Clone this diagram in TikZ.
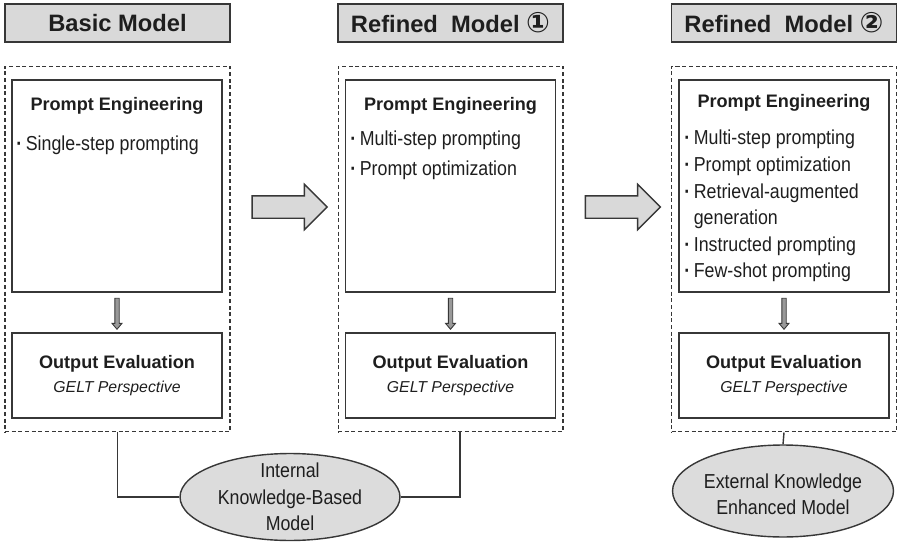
\documentclass[tikz,border=0pt]{standalone}
\usepackage{fontspec}
\setmainfont{Liberation Sans}
\newfontfamily\condfont[FakeStretch=0.88]{Liberation Sans}
\newfontfamily\symfont{DejaVu Sans}
\usetikzlibrary{positioning,shapes.geometric,shapes.arrows}
\definecolor{boxgray}{RGB}{217,217,217}
\definecolor{ellgray}{RGB}{220,220,220}
\definecolor{linegray}{RGB}{55,55,55}
\definecolor{txtgray}{RGB}{30,30,30}
\newcommand\bul{\makebox[0.19cm][l]{\bfseries\textperiodcentered}}

\begin{document}
\begin{tikzpicture}[
  x=0.02cm, y=-0.02cm,
  every node/.style={text=txtgray},
  titlebox/.style = {draw=linegray, line width=1pt, fill=boxgray, minimum width=4.5cm, minimum height=0.76cm, inner sep=0pt, font=\fontsize{13.5}{16}\selectfont\bfseries},
  frame/.style = {draw=linegray, dash pattern=on 2.3pt off 1.5pt, line width=0.6pt, minimum width=4.5cm, minimum height=7.32cm},
  pebox/.style = {draw=linegray, line width=0.8pt, minimum width=4.2cm, minimum height=4.24cm},
  oebox/.style = {draw=linegray, line width=0.8pt, minimum width=4.2cm, minimum height=1.7cm, align=center, font=\fontsize{10.3}{13.6}\selectfont},
  petitle/.style = {font=\fontsize{10.3}{12}\selectfont\bfseries, inner sep=0pt},
  items/.style = {anchor=north west, align=left, inner sep=0pt, font=\condfont\fontsize{11.5}{15.1}\selectfont},
  bigarr/.style = {single arrow, draw=linegray, line width=0.8pt, fill=boxgray, minimum height=1.5cm, inner xsep=0pt, inner ysep=0.21cm, single arrow head extend=0.23cm},
  downarr/.style = {single arrow, shape border rotate=270, draw=linegray, line width=0.5pt, fill=gray!80, minimum height=0.62cm, inner sep=0.035cm, single arrow head extend=0.055cm, single arrow tip angle=80},
  ellbox/.style = {ellipse, draw=linegray, line width=0.8pt, fill=ellgray, inner sep=0pt},
  elltext/.style = {align=center, inner sep=0pt, font=\condfont\fontsize{11.5}{15}\selectfont}
  ]
  \useasboundingbox (0,0) rectangle (898,543);

  % titles
  \node[titlebox] (t1) at (117.5,23) {Basic Model};
  \node[titlebox] (t2) at (450.5,23) {Refined\ \ Model {\symfont\fontsize{16}{16}\selectfont ①}};
  \node[titlebox] (t3) at (784,23) {Refined\ \ Model {\symfont\fontsize{16}{16}\selectfont ②}};

  % dashed frames
  \node[frame] (f1) at (117.5,249) {};
  \node[frame] (f2) at (450.5,249) {};
  \node[frame] (f3) at (784,249) {};

  % prompt engineering boxes
  \node[pebox] (pe1) at (117,186) {};
  \node[pebox] (pe2) at (450.5,186) {};
  \node[pebox] (pe3) at (784,186) {};

  \node[petitle] (pt1) at (117,106) {Prompt Engineering};
  \node[petitle] (pt2) at (450.5,106) {Prompt Engineering};
  \node[petitle] (pt3) at (784,103) {Prompt Engineering};

  \node[items] (li1) at (16,136) {\bul Single-step prompting};
  \node[items, font=\condfont\fontsize{11.5}{17}\selectfont] (li2) at (350,131) {\bul Multi-step prompting\\ \bul Prompt optimization};
  \node[items] (li3) at (684,130) {\bul Multi-step prompting\\ \bul Prompt optimization\\ \bul Retrieval-augmented\\ \hspace*{0.19cm}generation\\ \bul Instructed prompting\\ \bul Few-shot prompting};

  % output evaluation boxes
  \node[oebox] (oe1) at (117,375.5) {\textbf{Output Evaluation}\\{\fontsize{9}{11}\selectfont\itshape GELT Perspective}};
  \node[oebox] (oe2) at (450.5,375.5) {\textbf{Output Evaluation}\\{\fontsize{9}{11}\selectfont\itshape GELT Perspective}};
  \node[oebox] (oe3) at (784,375.5) {\textbf{Output Evaluation}\\{\fontsize{9}{11}\selectfont\itshape GELT Perspective}};

  \path (pe1.south) -- (oe1.north) node[downarr, midway] (d1) {};
  \path (pe2.south) -- (oe2.north) node[downarr, midway] (d2) {};
  \path (pe3.south) -- (oe3.north) node[downarr, midway] (d3) {};

  % arrows between models
  \path (f1.east) -- (f2.west) node[bigarr, midway, yshift=0.84cm] (a1) {};
  \path (f2.east) -- (f3.west) node[bigarr, midway, yshift=0.84cm] (a2) {};

  % knowledge ellipses
  \node[ellbox, minimum width=4.4cm, minimum height=1.74cm] (e1) at (290,497) {};
  \node[elltext] (et1) at (e1) {Internal\\Knowledge-Based\\Model};
  \node[ellbox, minimum width=4.42cm, minimum height=1.84cm] (e2) at (783,491) {};
  \node[elltext] (et2) at ([yshift=-0.06cm]e2) {External Knowledge\\Enhanced Model};

  \draw[linegray, line width=0.8pt] (f1.south) |- (e1.west);
  \draw[linegray, line width=0.8pt] ([xshift=0.19cm]f2.south) |- (e1.east);
  \draw[linegray, line width=0.8pt] (f3.south) -- (e2.north);

\end{tikzpicture}
\end{document}
